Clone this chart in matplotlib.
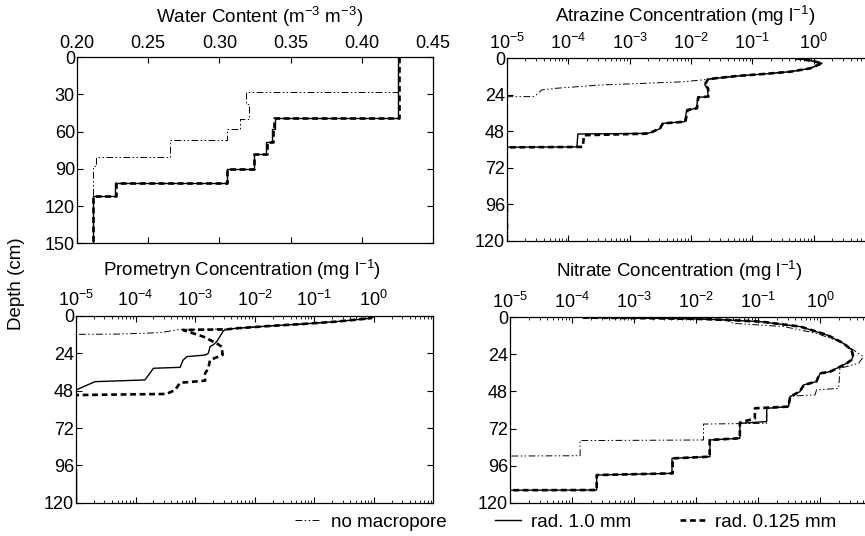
import numpy as np
import matplotlib
matplotlib.use('Agg')
import matplotlib.pyplot as plt
from matplotlib.ticker import LogLocator, NullFormatter, FormatStrFormatter
from matplotlib.lines import Line2D

plt.rcParams['font.family'] = ['Liberation Sans', 'DejaVu Sans']
plt.rcParams['mathtext.fontset'] = 'custom'
plt.rcParams['mathtext.rm'] = 'Liberation Sans'
plt.rcParams['mathtext.it'] = 'Liberation Sans'
plt.rcParams['mathtext.default'] = 'regular'

W, H = 865, 536
FS = 13
TFS = 13.5
OFF = 1e-6  # below the plotted range -> drawn off the left edge

# ---- water content, layered (top of each layer, value) ----
water_bottom = 150
water_nomac_tops = [0, 28, 38, 50, 58, 67, 80, 88]
water_nomac_vals = [0.4255, 0.319, 0.321, 0.3145, 0.305, 0.2655, 0.2136, 0.211]
water_r10_tops = [0, 49, 58, 68, 78, 90, 101, 112]
water_r10_vals = [0.4255, 0.339, 0.337, 0.333, 0.3245, 0.305, 0.227, 0.211]
water_r0125_tops = [0, 49, 58, 68, 78, 90, 101, 112]
water_r0125_vals = [0.4262, 0.3385, 0.3375, 0.3335, 0.3245, 0.3055, 0.2275, 0.2113]

# ---- atrazine (depth cm, conc mg/l) ----
atr_nomac_depth = [0, 1.5, 3.3, 6.6, 8.8, 10.3, 11.6, 13.2, 13.8, 15.4, 16.5, 17.6,
                   19.7, 20.8, 24.1, 25.2, 25.4, 95.5, 95.6, 120]
atr_nomac_conc = [0.5, 0.9, 1.36, 0.88, 0.42, 0.156, 0.058, 0.0244, 0.019, 0.0079,
                  0.0016, 3.2e-4, 6.4e-5, 3.7e-5, 3.0e-5, 2.7e-5, OFF, OFF, 1.03e-5, 1.03e-5]
atr_r10_depth = [0, 1.5, 3.3, 6.6, 8.8, 10.3, 11.6, 13.2, 13.8, 17.6, 19.7, 25.2, 25.7,
                 32.9, 34.0, 41.7, 42.8, 46.1, 48.9, 49.4, 49.8, 58.3, 58.6, 120]
atr_r10_conc = [0.5, 0.9, 1.36, 0.88, 0.42, 0.156, 0.058, 0.0244, 0.019, 0.0168, 0.0186,
                0.019, 0.0129, 0.0123, 0.0085, 0.0079, 0.0034, 0.0032, 0.0022, 0.0019,
                1.43e-4, 1.38e-4, OFF, OFF]
atr_r0125_depth = [0, 1.5, 3.3, 6.6, 8.8, 10.3, 11.6, 13.2, 13.8, 17.6, 19.7, 25.2, 25.7,
                   32.9, 34.0, 41.7, 42.8, 46.1, 48.9, 49.6, 50.6, 58.3, 58.8, 120]
atr_r0125_conc = [0.5, 0.9, 1.36, 0.88, 0.42, 0.156, 0.058, 0.0244, 0.019, 0.0165, 0.019,
                  0.0192, 0.0131, 0.0125, 0.0088, 0.0081, 0.0035, 0.0031, 0.0022, 0.0018,
                  1.8e-4, 1.72e-4, OFF, OFF]

# ---- prometryn ----
pro_nomac_depth = [0, 1.5, 3.6, 5.1, 6.4, 7.9, 8.4, 8.6, 10.7, 11.6, 11.8, 11.9, 120]
pro_nomac_conc = [1.0, 0.86, 0.238, 0.066, 0.018, 0.005, 0.0034, 5.6e-4, 2.6e-4, 5.5e-5,
                  1.0e-5, OFF, OFF]
pro_r10_depth = [0, 1.5, 3.6, 5.1, 6.4, 7.9, 8.6, 9.4, 13.3, 16.5, 18.6, 19.7, 24.0, 25.1,
                 26.1, 28.3, 33.0, 33.6, 41.1, 42.2, 47.6, 48.0, 98.5, 98.6, 120]
pro_r10_conc = [1.0, 0.86, 0.238, 0.066, 0.018, 0.005, 0.0034, 0.0030, 0.0026, 0.0023,
                0.0020, 0.00178, 0.00167, 0.00147, 7.3e-4, 6.3e-4, 5.6e-4, 2.0e-4, 1.44e-4,
                2.08e-5, 1.0e-5, OFF, OFF, 1.02e-5, 1.02e-5]
pro_r0125_depth = [0, 1.5, 3.6, 5.1, 6.4, 7.9, 8.6, 9.0, 13.3, 17.6, 19.7, 25.0, 28.3, 33.6,
                   36.9, 41.6, 42.9, 47.6, 50.1, 50.8, 51.0, 120]
pro_r0125_conc = [1.0, 0.86, 0.238, 0.066, 0.018, 0.005, 0.0034, 6.3e-4, 1.38e-3, 2.3e-3,
                  2.8e-3, 2.9e-3, 1.78e-3, 1.67e-3, 1.47e-3, 1.47e-3, 5.6e-4, 4.6e-4,
                  3.3e-4, 1.1e-5, OFF, OFF]

# ---- nitrate ----
nit_r10_depth = [0.2, 0.5, 1.0, 1.7, 2.8, 6.0, 11.4, 16.8, 21.1, 24.4, 27.6, 29.8, 33.0,
                 35.2, 36.3, 41.6, 43.8, 48.1, 50.3, 51.4, 57.8, 58.9, 67.5, 68.6, 78.3,
                 79.4, 90.2, 91.3, 101.0, 102.1, 111.8, 112.0, 120]
nit_r10_conc = [1.5e-4, 1e-3, 0.01, 0.031, 0.108, 0.475, 1.28, 2.38, 3.24, 3.45, 3.24,
                2.69, 1.86, 1.45, 1.0, 0.88, 0.54, 0.475, 0.37, 0.33, 0.31, 0.138, 0.138,
                0.051, 0.051, 0.0168, 0.0168, 0.0041, 0.0041, 2.5e-4, 2.5e-4, OFF, OFF]
nit_r0125_depth = [0.2, 0.5, 1.0, 1.7, 2.8, 6.0, 11.4, 16.8, 21.1, 24.4, 27.6, 29.8, 33.0,
                   35.2, 36.3, 41.6, 43.8, 48.1, 50.3, 51.4, 57.8, 58.9, 65.4, 68.2, 78.3,
                   79.4, 90.2, 91.3, 101.0, 102.1, 111.8, 112.0, 120]
nit_r0125_conc = [1.5e-4, 1e-3, 0.01, 0.031, 0.11, 0.48, 1.3, 2.4, 3.2, 3.4, 3.2,
                  2.7, 1.9, 1.45, 1.0, 0.87, 0.55, 0.47, 0.37, 0.33, 0.31, 0.089, 0.089,
                  0.051, 0.051, 0.0166, 0.0166, 0.0042, 0.0042, 2.5e-4, 2.5e-4, OFF, OFF]
nit_nomac_depth = [0.2, 0.5, 1.0, 1.7, 3.9, 6.0, 10.4, 15.8, 21.1, 25.5, 29.8, 33.0, 46.0,
                   47.0, 50.3, 51.0, 57.8, 58.9, 68.6, 69.1, 79.4, 79.8, 89.6, 89.8, 90.0, 120]
nit_nomac_conc = [1.5e-4, 1e-3, 0.01, 0.03, 0.04, 0.26, 0.88, 2.1, 3.45, 5.0, 4.2, 2.1,
                  2.0, 0.88, 0.83, 0.33, 0.31, 0.138, 0.138, 0.0132, 0.0132, 1.35e-4,
                  1.35e-4, 1e-5, OFF, OFF]

labels = ['no macropore', 'rad. 1.0 mm', 'rad. 0.125 mm']
styles = [dict(color='black', lw=0.7, ls=(0, (7, 2.5, 1.5, 2.5, 1.5, 2.5))),
          dict(color='black', lw=1.0, ls='-'),
          dict(color='black', lw=1.9, ls=(0, (2.2, 1.4)))]


def step_profile(tops, vals, bottom):
    bounds = list(tops) + [bottom]
    y = np.repeat(bounds, 2)[1:-1]
    x = np.repeat(vals, 2)
    return x, y


def px_rect(l, t, r, b):
    return [l / W, 1 - b / H, (r - l) / W, (b - t) / H]


fig = plt.figure(figsize=(W / 100, H / 100), dpi=100)
ax_w = fig.add_axes(px_rect(77, 57.3, 433, 243.3))
ax_a = fig.add_axes(px_rect(507, 58.3, 875, 240.7))
ax_p = fig.add_axes(px_rect(76, 316, 433.3, 502.7))
ax_n = fig.add_axes(px_rect(510, 317.3, 882, 502.7))

# water content
for (tops, vals), st in zip([(water_nomac_tops, water_nomac_vals),
                             (water_r10_tops, water_r10_vals),
                             (water_r0125_tops, water_r0125_vals)], styles):
    x, y = step_profile(tops, vals, water_bottom)
    ax_w.plot(x, y, **st)

for ax, series in [(ax_a, [(atr_nomac_conc, atr_nomac_depth), (atr_r10_conc, atr_r10_depth),
                           (atr_r0125_conc, atr_r0125_depth)]),
                   (ax_p, [(pro_nomac_conc, pro_nomac_depth), (pro_r10_conc, pro_r10_depth),
                           (pro_r0125_conc, pro_r0125_depth)]),
                   (ax_n, [(nit_nomac_conc, nit_nomac_depth), (nit_r10_conc, nit_r10_depth),
                           (nit_r0125_conc, nit_r0125_depth)])]:
    for (c, d), st in zip(series, styles):
        ax.plot(c, d, **st)

for ax in [ax_w, ax_a, ax_p, ax_n]:
    ax.xaxis.tick_top()
    ax.tick_params(which='both', direction='in', top=True, bottom=True, left=True,
                   right=True, labeltop=True, labelbottom=False, labelsize=FS)
    ax.tick_params(which='major', length=4, width=0.8)
    ax.tick_params(which='minor', length=2.2, width=0.6)
    ax.tick_params(axis='y', pad=1.5)
    ax.tick_params(axis='x', pad=4)
    for s in ax.spines.values():
        s.set_linewidth(0.9)

ax_w.set_xlim(0.20, 0.45)
ax_w.set_xticks([0.20, 0.25, 0.30, 0.35, 0.40, 0.45])
ax_w.xaxis.set_major_formatter(FormatStrFormatter('%.2f'))
ax_w.set_ylim(150, 0)
ax_w.set_yticks([0, 30, 60, 90, 120, 150])

for ax in [ax_a, ax_p, ax_n]:
    ax.set_xscale('log')
    ax.set_xlim(1e-5, 1e1)
    ax.set_xticks([1e-5, 1e-4, 1e-3, 1e-2, 1e-1, 1e0])
    ax.xaxis.set_minor_locator(LogLocator(base=10, subs=np.arange(2, 10), numticks=20))
    ax.xaxis.set_minor_formatter(NullFormatter())
    ax.set_ylim(120, 0)
    ax.set_yticks([0, 24, 48, 72, 96, 120])

titles = [('Water Content (m$^{-3}$ m$^{-3}$)', 260, 23),
          ('Atrazine Concentration (mg l$^{-1}$)', 685, 22),
          ('Prometryn Concentration (mg l$^{-1}$)', 242, 276),
          ('Nitrate Concentration (mg l$^{-1}$)', 679, 277)]
for txt, x, y in titles:
    fig.text(x / W, 1 - y / H, txt, ha='center', va='baseline', fontsize=TFS)

fig.text(17 / W, 1 - 284 / H, 'Depth (cm)', rotation=90, ha='center', va='center',
         fontsize=TFS)

handles = [Line2D([], [], **st) for st in styles]
fig.legend(handles, labels, loc='center left', bbox_to_anchor=(295 / W, 1 - 522 / H),
           ncol=3, frameon=False, fontsize=TFS, handlelength=1.4, handletextpad=0.5,
           columnspacing=2.6, borderpad=0, borderaxespad=0)

fig.savefig('out.png', dpi=100)
